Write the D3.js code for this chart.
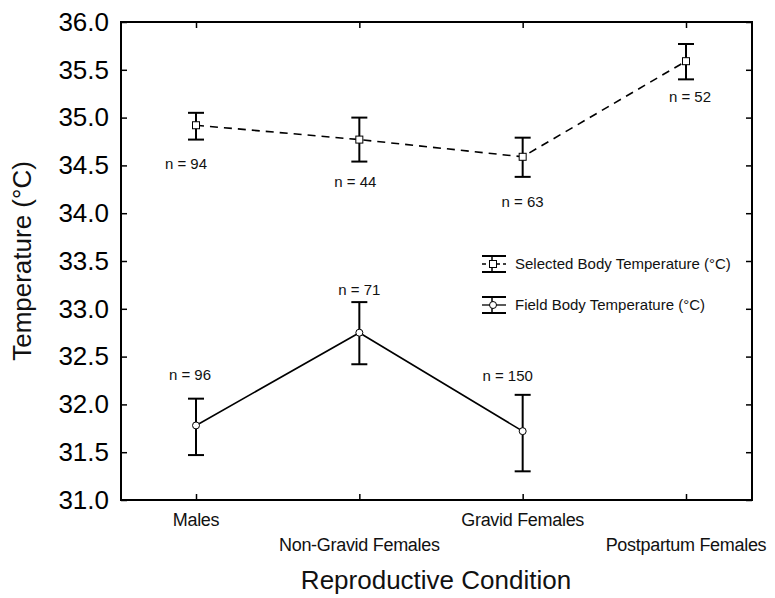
<!DOCTYPE html>
<html>
<head>
<meta charset="utf-8">
<script src="https://cdn.jsdelivr.net/npm/d3@7"></script>
<style>
  body { margin: 0; background: #fff; }
  svg { display: block; font-family: "Liberation Sans", Arial, sans-serif; }
</style>
</head>
<body>
<svg id="chart" width="775" height="598"></svg>
<script>
// ---- data ----
const categories = ["Males", "Non-Gravid Females", "Gravid Females", "Postpartum Females"];
const yTicks = [31.0, 31.5, 32.0, 32.5, 33.0, 33.5, 34.0, 34.5, 35.0, 35.5, 36.0];

const selectedMean = [34.92, 34.77, 34.59, 35.59];
const selectedHigh = [35.05, 35.00, 34.79, 35.77];
const selectedLow  = [34.77, 34.54, 34.38, 35.40];
const selectedN    = [94, 44, 63, 52];

const fieldMean = [31.78, 32.75, 31.72];
const fieldHigh = [32.06, 33.07, 32.10];
const fieldLow  = [31.47, 32.42, 31.30];
const fieldN    = [96, 71, 150];

const seriesNames = ["Selected Body Temperature (°C)", "Field Body Temperature (°C)"];
const xTitle = "Reproductive Condition";
const yTitle = "Temperature (°C)";

// ---- layout ----
const box = { left: 121, right: 752, top: 22, bottom: 500 };
const svg = d3.select("#chart");

const x = d3.scalePoint().domain(categories).range([196, 686]);
const y = d3.scaleLinear().domain([31, 36]).range([box.bottom, box.top]);

// frame
svg.append("rect")
  .attr("x", box.left).attr("y", box.top)
  .attr("width", box.right - box.left).attr("height", box.bottom - box.top)
  .attr("fill", "none").attr("stroke", "#000").attr("stroke-width", 2);

// left axis
const gy = svg.append("g").attr("transform", `translate(${box.left},0)`)
  .call(d3.axisLeft(y).tickValues(yTicks).tickFormat(d3.format(".1f")).tickSizeInner(-6).tickSizeOuter(0).tickPadding(12));
gy.select(".domain").remove();
gy.selectAll("line").attr("stroke-width", 1.5);
gy.selectAll("text").attr("font-size", 26).attr("font-family", "Liberation Sans, Arial, sans-serif").attr("fill", "#000");

// right axis ticks
const gyr = svg.append("g").attr("transform", `translate(${box.right},0)`)
  .call(d3.axisRight(y).tickValues(yTicks).tickFormat("").tickSizeInner(-6).tickSizeOuter(0));
gyr.select(".domain").remove();
gyr.selectAll("line").attr("stroke-width", 1.5);

// bottom axis ticks
const gx = svg.append("g").attr("transform", `translate(0,${box.bottom})`)
  .call(d3.axisBottom(x).tickFormat("").tickSizeInner(-6).tickSizeOuter(0));
gx.select(".domain").remove();
gx.selectAll("line").attr("stroke-width", 1.5);

// top axis ticks
const gxt = svg.append("g").attr("transform", `translate(0,${box.top})`)
  .call(d3.axisTop(x).tickFormat("").tickSizeInner(-6).tickSizeOuter(0));
gxt.select(".domain").remove();
gxt.selectAll("line").attr("stroke-width", 1.5);

// category labels (staggered)
svg.append("g").selectAll("text").data(categories).join("text")
  .attr("x", d => x(d))
  .attr("y", (d, i) => i % 2 === 0 ? 526 : 551)
  .attr("text-anchor", "middle")
  .attr("font-size", 18)
  .attr("letter-spacing", -0.3)
  .attr("fill", "#111")
  .text(d => d);

// axis titles
svg.append("text").attr("x", 436).attr("y", 589).attr("text-anchor", "middle")
  .attr("font-size", 26).attr("fill", "#111").text(xTitle);
svg.append("text").attr("transform", `translate(31,${(box.top + box.bottom) / 2}) rotate(-90)`)
  .attr("text-anchor", "middle").attr("font-size", 26).attr("fill", "#111").text(yTitle);

// ---- series ----
const selData = categories.map((c, i) => ({ c, m: selectedMean[i], hi: selectedHigh[i], lo: selectedLow[i], n: selectedN[i] }));
const fldData = categories.slice(0, 3).map((c, i) => ({ c, m: fieldMean[i], hi: fieldHigh[i], lo: fieldLow[i], n: fieldN[i] }));

// lines
svg.append("path").datum(selData)
  .attr("d", d3.line().x(d => x(d.c)).y(d => y(d.m)))
  .attr("fill", "none").attr("stroke", "#000").attr("stroke-width", 1.6)
  .attr("stroke-dasharray", "8,6");
svg.append("path").datum(fldData)
  .attr("d", d3.line().x(d => x(d.c)).y(d => y(d.m)))
  .attr("fill", "none").attr("stroke", "#000").attr("stroke-width", 1.6);

function errorBars(data) {
  const g = svg.append("g").attr("stroke", "#000").attr("stroke-width", 2);
  g.selectAll(".v").data(data).join("line")
    .attr("x1", d => x(d.c)).attr("x2", d => x(d.c))
    .attr("y1", d => y(d.hi)).attr("y2", d => y(d.lo));
  g.selectAll(".t").data(data).join("line")
    .attr("x1", d => x(d.c) - 8).attr("x2", d => x(d.c) + 8)
    .attr("y1", d => y(d.hi)).attr("y2", d => y(d.hi));
  g.selectAll(".b").data(data).join("line")
    .attr("x1", d => x(d.c) - 8).attr("x2", d => x(d.c) + 8)
    .attr("y1", d => y(d.lo)).attr("y2", d => y(d.lo));
}
errorBars(selData);
errorBars(fldData);

// markers
svg.append("g").selectAll("rect").data(selData).join("rect")
  .attr("x", d => x(d.c) - 3.5).attr("y", d => y(d.m) - 3.5)
  .attr("width", 7).attr("height", 7)
  .attr("fill", "#fff").attr("stroke", "#000").attr("stroke-width", 1);
svg.append("g").selectAll("circle").data(fldData).join("circle")
  .attr("cx", d => x(d.c)).attr("cy", d => y(d.m)).attr("r", 3.5)
  .attr("fill", "#fff").attr("stroke", "#000").attr("stroke-width", 1);

// n labels
const selLabelOff = [[-10, 44], [-4, 47], [0, 50], [4, 41]];
svg.append("g").selectAll("text").data(selData).join("text")
  .attr("x", (d, i) => x(d.c) + selLabelOff[i][0])
  .attr("y", (d, i) => y(d.m) + selLabelOff[i][1])
  .attr("text-anchor", "middle").attr("font-size", 15).attr("fill", "#111")
  .text(d => "n = " + d.n);
const fldLabelOff = [[-6, -45], [0, -38], [-15, -50]];
svg.append("g").selectAll("text").data(fldData).join("text")
  .attr("x", (d, i) => x(d.c) + fldLabelOff[i][0])
  .attr("y", (d, i) => y(d.m) + fldLabelOff[i][1])
  .attr("text-anchor", "middle").attr("font-size", 15).attr("fill", "#111")
  .text(d => "n = " + d.n);

// legend
const legend = svg.append("g");
const legRows = [{ y: 264, dash: "4,3", marker: "rect" }, { y: 305, dash: null, marker: "circle" }];
legRows.forEach((r, i) => {
  const g = legend.append("g").attr("transform", `translate(482,${r.y})`);
  g.append("line").attr("x1", 0).attr("x2", 24).attr("y1", -8).attr("y2", -8).attr("stroke", "#000").attr("stroke-width", 2);
  g.append("line").attr("x1", 0).attr("x2", 24).attr("y1", 8).attr("y2", 8).attr("stroke", "#000").attr("stroke-width", 2);
  g.append("line").attr("x1", 10).attr("x2", 10).attr("y1", -8).attr("y2", 8).attr("stroke", "#000").attr("stroke-width", 1.5);
  g.append("line").attr("x1", 0).attr("x2", 24).attr("y1", 0).attr("y2", 0).attr("stroke", "#000").attr("stroke-width", 1.3)
    .attr("stroke-dasharray", r.dash);
  if (r.marker === "rect") {
    g.append("rect").attr("x", 7.5).attr("y", -3.5).attr("width", 7).attr("height", 7).attr("fill", "#fff").attr("stroke", "#000");
  } else {
    g.append("circle").attr("cx", 11).attr("cy", 0).attr("r", 3.5).attr("fill", "#fff").attr("stroke", "#000");
  }
  g.append("text").attr("x", 33).attr("y", 5).attr("font-size", 15)
    .attr("fill", "#111").text(seriesNames[i]);
});
</script>
</body>
</html>
